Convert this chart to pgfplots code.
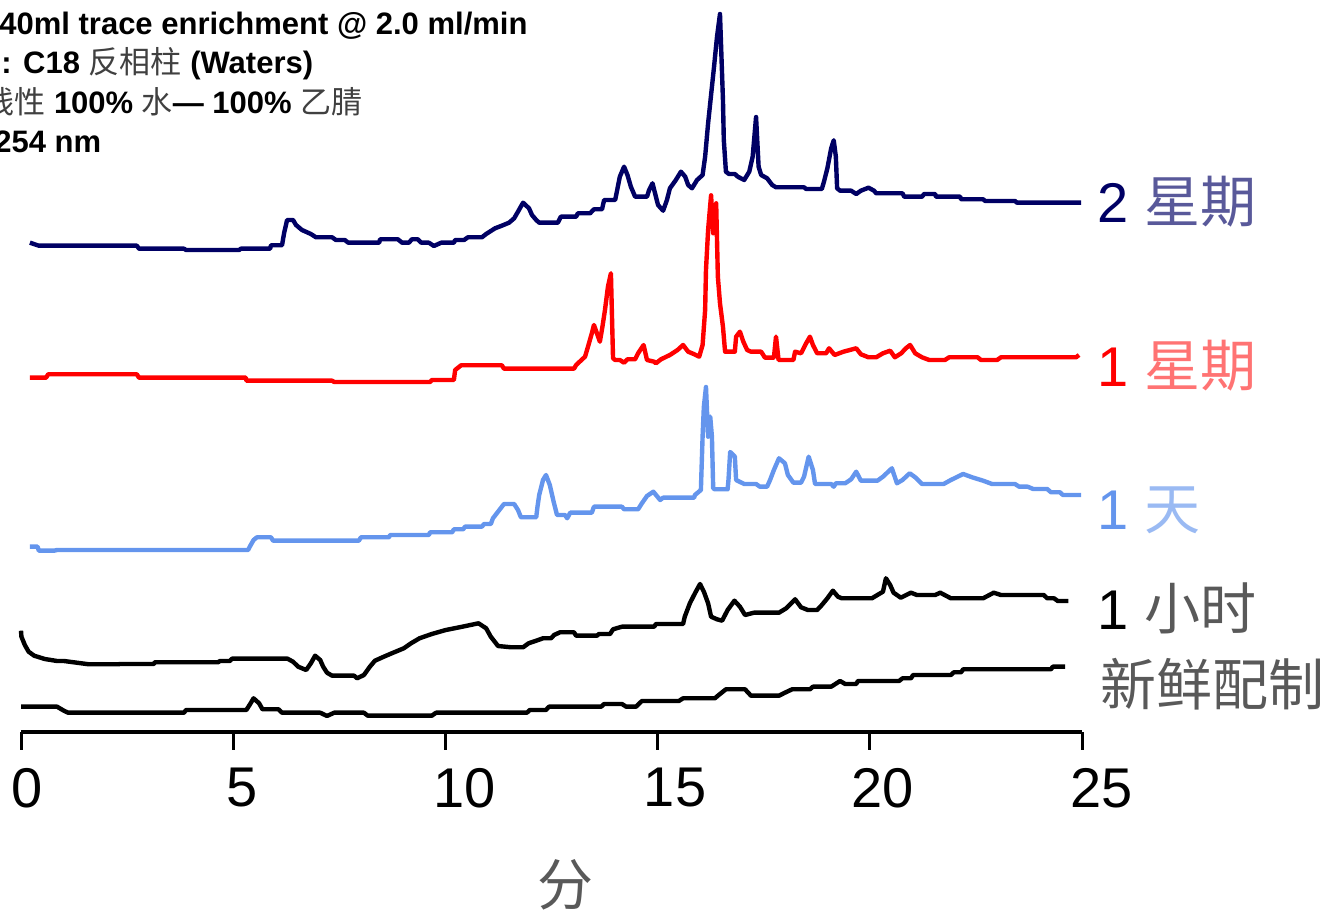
\documentclass[border=0pt]{standalone}
\usepackage{pgfplots}
\pgfplotsset{compat=1.18}
\usepackage{fontspec}
\setmainfont{Liberation Sans}
\newfontfamily\cjk{Noto Sans CJK SC}
\definecolor{navyc}{RGB}{0,0,100}
\definecolor{cblue}{RGB}{100,149,237}
\newcommand\bigf{\fontsize{28}{28}\selectfont}
\newcommand\smf{\fontsize{15.5}{18}\selectfont\bfseries}
\newcommand\cj[1]{{\cjk\mdseries #1}}

\begin{document}
\begin{tikzpicture}
\begin{axis}[
  x=21.22pt, y=0.5pt,
  xmin=0, xmax=25, ymin=0, ymax=732,
  enlargelimits=false, clip=false,
  axis x line*=bottom, axis y line=none,
  axis line style={line width=1.7pt, black},
  xtick={0,5,10,15,20,25}, ytick=\empty,
  xticklabels={{\hspace*{6pt}0},{\hspace*{8.5pt}5},{\hspace*{19pt}10},{\hspace*{17.5pt}15},{\hspace*{13pt}20},{\hspace*{20pt}25}},
  tick align=outside, major tick length=9pt,
  tick style={line width=1.5pt, black},
  xticklabel style={font=\bigf, anchor=north, inner sep=0pt, yshift=-9pt},
  every axis plot/.append style={line width=2.2pt, line join=round},
]
% 2 weeks
\addplot[navyc] coordinates {(0.21,489.3)(0.42,486.3)(2.73,486.3)(2.78,483.3)(3.84,483.3)(3.89,482)(5.14,482)(5.18,483.3)(5.87,483.3)(5.89,486.7)(6.15,486.7)(6.20,499)(6.27,512)(6.41,512)(6.48,507)(6.62,502)(6.83,498)(6.95,494.7)(7.33,494.7)(7.42,492)(7.63,492)(7.71,489.3)(8.44,489.3)(8.46,492.7)(8.88,492.7)(8.98,489.3)(9.14,489.3)(9.21,492.7)(9.35,492.7)(9.43,489.3)(9.61,489.3)(9.73,486)(9.90,489.3)(10.20,489.3)(10.23,492)(10.44,492)(10.53,494.7)(10.86,494.7)(10.96,498)(11.17,503.7)(11.33,506.3)(11.50,509.3)(11.62,513.7)(11.71,520.3)(11.83,529.3)(11.97,523.7)(12.04,517)(12.14,512)(12.21,509.3)(12.65,509.3)(12.72,515.3)(13.08,515.3)(13.12,518.7)(13.41,518.7)(13.50,522.7)(13.69,522.7)(13.74,532)(14.00,532)(14.04,540.3)(14.11,555.3)(14.21,565.3)(14.29,557)(14.37,545.3)(14.47,535.3)(14.75,535.3)(14.80,542)(14.88,548.7)(14.94,538.7)(15.01,527)(15.13,521.3)(15.22,532)(15.29,543.7)(15.43,552)(15.55,560.3)(15.65,555.3)(15.72,547)(15.81,543.7)(15.93,552)(16.06,557)(16.12,575.3)(16.19,608.7)(16.26,637)(16.33,665.3)(16.40,695.3)(16.47,718)(16.54,632)(16.56,592)(16.61,560.3)(16.68,558)(16.82,558)(16.89,555.3)(17.04,552)(17.16,560.3)(17.24,575.3)(17.32,615)(17.38,565.3)(17.44,557)(17.58,553.7)(17.70,547)(17.79,544.7)(18.45,544.7)(18.50,543)(18.87,543)(18.92,550.3)(19.00,563.7)(19.09,583.7)(19.15,591.7)(19.20,575.3)(19.23,543.7)(19.30,541.3)(19.56,541.3)(19.68,538)(19.79,541.3)(19.97,544.3)(20.10,541.3)(20.15,538.7)(20.77,538.7)(20.81,535.3)(21.23,535.3)(21.28,538)(21.54,538)(21.56,535.3)(22.13,535.3)(22.15,532.7)(22.67,532.7)(22.72,531)(23.42,531)(23.47,529.3)(24.98,529.3)};
% 1 week
\addplot[red] coordinates {(0.21,354.3)(0.59,354.3)(0.64,357.7)(2.73,357.7)(2.78,354.3)(5.30,354.3)(5.31,351.3)(7.33,351.3)(7.38,350)(9.64,350)(9.68,352)(10.20,352)(10.23,362)(10.37,366.7)(11.33,366.7)(11.38,363.3)(13.03,363.3)(13.08,367)(13.29,375.3)(13.36,385.3)(13.45,398.7)(13.50,407)(13.57,398.7)(13.64,390.3)(13.70,405.3)(13.76,422)(13.83,445.3)(13.90,458.7)(13.95,373.7)(14.00,372)(14.11,372)(14.21,369.3)(14.29,372.7)(14.47,372.7)(14.54,378.7)(14.67,387)(14.75,372)(14.92,370.3)(14.96,368.7)(15.08,372.7)(15.29,377)(15.47,382)(15.60,387)(15.72,380.3)(15.85,378)(15.98,375.3)(16.06,387)(16.12,422)(16.14,462)(16.19,502)(16.26,536.7)(16.31,498.7)(16.38,528.7)(16.42,455.3)(16.47,428.7)(16.54,405.3)(16.59,380.3)(16.82,380.3)(16.85,395.3)(16.94,400.3)(17.02,390.3)(17.11,382)(17.20,380.3)(17.44,380.3)(17.53,374.3)(17.74,374.3)(17.79,395.3)(17.85,372)(18.20,372)(18.24,380.3)(18.38,378.7)(18.50,388.7)(18.59,395.3)(18.66,387)(18.76,378.7)(18.97,378.7)(19.04,383.7)(19.17,377)(19.38,380.3)(19.68,383.7)(19.79,377.7)(19.97,374.7)(20.15,374.7)(20.31,378.7)(20.48,381.3)(20.59,374.7)(20.74,378.7)(20.85,383.7)(20.95,387)(21.07,378.7)(21.23,374.7)(21.40,372)(21.77,372)(21.87,374.7)(22.54,374.7)(22.62,372)(23.00,372)(23.09,374.7)(24.86,374.7)(24.93,377)};
% 1 day
\addplot[cblue] coordinates {(0.21,185.3)(0.39,185.3)(0.42,181.3)(0.78,181.3)(0.85,182)(5.35,182)(5.40,186)(5.48,192)(5.56,194.7)(5.89,194.7)(5.94,191.3)(7.96,191.3)(8.01,194.7)(8.67,194.7)(8.70,197)(9.61,197)(9.64,199.7)(10.16,199.7)(10.20,202.7)(10.42,202.7)(10.46,205.3)(10.86,205.3)(10.91,208)(11.07,208)(11.12,213.7)(11.24,220.3)(11.38,228)(11.62,228)(11.71,222)(11.78,214.7)(12.14,214.7)(12.17,225.3)(12.21,237)(12.30,252)(12.37,257)(12.46,247)(12.55,230.3)(12.63,217)(12.82,217)(12.87,213.7)(12.94,219.3)(13.45,219.3)(13.50,225.3)(14.16,225.3)(14.21,222.7)(14.54,222.7)(14.63,228.7)(14.75,236)(14.90,240.3)(15.06,232)(15.13,234.3)(15.86,234.3)(15.88,237)(16.02,242)(16.06,295.3)(16.09,325.3)(16.14,345)(16.19,295.3)(16.24,315.3)(16.28,295.3)(16.31,243.7)(16.35,242.7)(16.65,242.7)(16.67,252)(16.71,280)(16.82,275.3)(16.85,252)(17.04,248)(17.32,248)(17.41,245.3)(17.58,245.3)(17.65,252)(17.74,262)(17.86,273.7)(18.00,268.7)(18.07,257)(18.20,249.3)(18.38,249.3)(18.45,255.3)(18.56,275.3)(18.66,262)(18.71,248)(19.09,248)(19.15,245.3)(19.20,248.7)(19.42,248.7)(19.56,252.7)(19.68,260.3)(19.79,251.3)(20.18,251.3)(20.31,255.3)(20.52,263.7)(20.64,248.7)(20.77,252)(20.94,258.7)(21.07,254.7)(21.23,248)(21.74,248)(21.91,252)(22.20,258)(22.41,254.7)(22.67,251.3)(22.88,248)(23.42,248)(23.52,245.3)(23.72,245.3)(23.85,243)(24.18,243)(24.27,239.7)(24.48,239.7)(24.55,237)(24.98,237)};
% 1 hour
\addplot[black] coordinates {(0,101.3)(0.01,95.3)(0.09,87)(0.18,80.3)(0.31,76.3)(0.56,73)(0.85,71)(1.01,71)(1.60,67.7)(2.29,67.7)(2.33,68)(3.13,68)(3.15,69.7)(4.64,69.7)(4.69,71)(4.92,71)(4.97,73.3)(6.28,73.3)(6.41,70.3)(6.53,65.3)(6.72,62)(6.83,68.7)(6.93,76.3)(7.05,72)(7.12,65.3)(7.21,59.3)(7.33,56.3)(7.85,56.3)(7.92,53.7)(8.08,57)(8.22,65.3)(8.34,71.3)(8.55,75.3)(8.77,79.3)(9.02,83.7)(9.19,88.7)(9.39,93.7)(9.68,98)(10.01,102)(10.40,105.3)(10.78,108.7)(10.96,103.7)(11.07,95.3)(11.24,86)(11.55,84.7)(11.83,84.7)(11.96,88.7)(12.14,91.3)(12.30,93.7)(12.49,93.7)(12.56,97)(12.70,99.7)(13.03,99.7)(13.08,96.3)(13.57,96.3)(13.62,98)(13.88,98)(13.95,102.7)(14.16,105.3)(14.92,105.3)(14.96,108)(15.60,108)(15.64,115.3)(15.76,128.7)(15.88,138.7)(16.00,148)(16.09,140.3)(16.19,128.7)(16.26,115.3)(16.40,112.7)(16.52,111.3)(16.65,122)(16.81,131.3)(16.94,125.3)(17.06,117)(17.27,119.3)(17.86,119.3)(18.03,123.7)(18.24,132.7)(18.38,124.7)(18.54,122)(18.76,122)(18.87,127)(19.00,133.7)(19.13,141.3)(19.25,135.3)(19.34,133.7)(20.05,133.7)(20.18,137)(20.31,140.3)(20.38,153.7)(20.48,147)(20.56,139.3)(20.73,134.3)(20.97,139.3)(21.11,137)(21.54,137)(21.66,139.3)(21.91,133.7)(22.67,133.7)(22.92,139.3)(23.09,137)(24.10,137)(24.18,133.7)(24.34,133.7)(24.43,131)(24.68,131)};
% freshly prepared
\addplot[black] coordinates {(0,25.3)(0.85,25.3)(1.01,21.3)(1.11,19.3)(3.84,19.3)(3.89,22)(5.31,22)(5.40,28)(5.48,33.7)(5.61,28.7)(5.69,22.7)(6.07,22.7)(6.15,19.3)(7.05,19.3)(7.21,16)(7.38,19.3)(8.08,19.3)(8.17,16.3)(9.68,16.3)(9.78,19.3)(11.92,19.3)(11.99,22)(12.37,22)(12.44,25.3)(13.67,25.3)(13.74,28)(14.16,28)(14.26,25.3)(14.49,25.3)(14.63,31)(15.50,31)(15.60,33.7)(16.35,33.7)(16.44,37)(16.61,42.7)(17.06,42.7)(17.20,36.3)(17.86,36.3)(18.00,39.3)(18.17,42.7)(18.59,42.7)(18.66,45.3)(19.09,45.3)(19.30,51)(19.42,48)(19.68,48)(19.72,51)(20.69,51)(20.77,53.7)(20.97,53.7)(21.02,57)(21.91,57)(21.98,59.7)(22.15,59.7)(22.20,62.7)(24.27,62.7)(24.31,65.3)(24.60,65.3)};
\end{axis}
\begin{scope}[x=0.5pt,y=-0.5pt,shift={(-10.5pt,366pt)}]
  \tikzset{lbl/.style={anchor=base west, inner sep=0pt, font=\bigf}}
  \node[lbl, text=navyc] at (1097,223) {2 {\color{navyc!65}\cj{星期}}};
  \node[lbl, text=red] at (1097,387) {1 {\color{red!55}\cj{星期}}};
  \node[lbl, text=cblue] at (1097,530) {1 {\color{cblue!65}\cj{天}}};
  \node[lbl, text=black] at (1097,630) {1 {\color{black!65}\cj{小时}}};
  \node[lbl, text=black!65] at (1100,706) {\cj{新鲜配制}};
  \node[anchor=center, inner sep=0pt, font=\bigf, text=black!65] at (565,885) {\cj{分}};
  \tikzset{tl/.style={anchor=base west, inner sep=0pt, font=\smf}}
  \node[tl] at (-1,35) {40ml trace enrichment @ 2.0 ml/min};
  \node[tl] at (-30,74) {{\color{black!75}\cj{柱}}: C18 {\color{black!75}\cj{反相柱}} (Waters)};
  \node[tl] at (-17,114) {{\color{black!75}\cj{线性}} 100\% {\color{black!75}\cj{水}}— 100\% {\color{black!75}\cj{乙腈}}};
  \node[tl] at (-6,153) {254 nm};
  \pgfresetboundingbox
  \useasboundingbox (0,0) rectangle (1324,910);
\end{scope}
\end{tikzpicture}
\end{document}
